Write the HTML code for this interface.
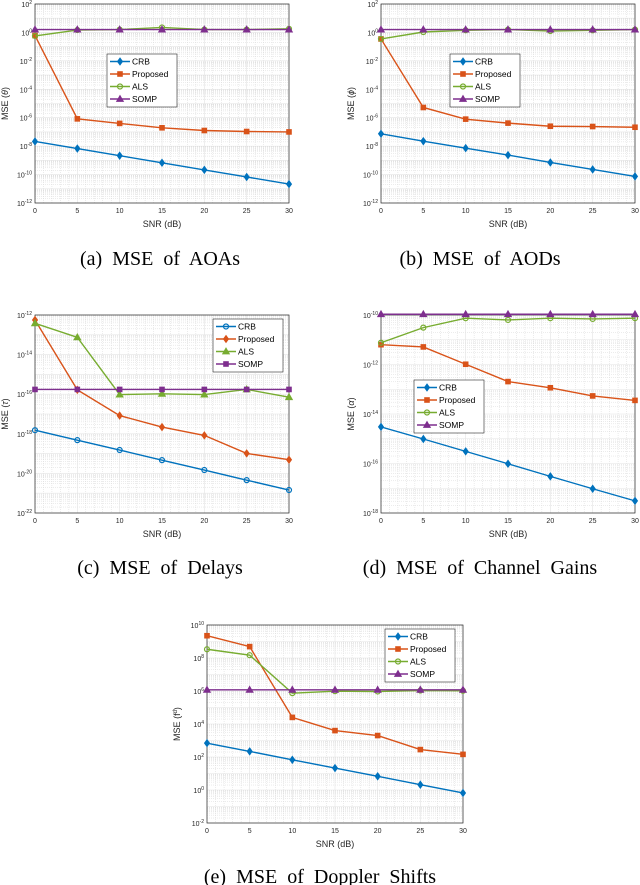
<!DOCTYPE html>
<html><head><meta charset="utf-8"><style>
body{margin:0;background:#fff;width:640px;height:885px;overflow:hidden}
svg{display:block}
text{font-family:"Liberation Sans",sans-serif}
.cap{font-family:"Liberation Serif",serif;font-size:20px;word-spacing:5px}
</style></head><body>
<svg id="fig" width="640" height="885"></svg>
<script>
const snr = [0,5,10,15,20,25,30];
const xTicks = [0,5,10,15,20,25,30];
const seriesNames = ["CRB","Proposed","ALS","SOMP"];
// log10 MSE values
const aCRB = [-7.67,-8.17,-8.67,-9.17,-9.67,-10.17,-10.67];
const aProp = [-0.22,-6.08,-6.4,-6.71,-6.9,-6.97,-7.0];
const aALS = [-0.25,0.17,0.2,0.35,0.2,0.2,0.25];
const aSOMP = [0.2,0.2,0.2,0.2,0.2,0.2,0.2];
const bCRB = [-7.13,-7.65,-8.14,-8.63,-9.15,-9.64,-10.13];
const bProp = [-0.46,-5.28,-6.1,-6.38,-6.6,-6.62,-6.67];
const bALS = [-0.46,0.03,0.15,0.2,0.1,0.15,0.2];
const bSOMP = [0.2,0.2,0.2,0.2,0.2,0.2,0.2];
const cCRB = [-17.82,-18.32,-18.82,-19.33,-19.83,-20.34,-20.84];
const cProp = [-12.25,-15.78,-17.08,-17.66,-18.08,-18.99,-19.31];
const cALS = [-12.42,-13.13,-16.02,-15.98,-16.02,-15.76,-16.15];
const cSOMP = [-15.76,-15.76,-15.76,-15.76,-15.76,-15.76,-15.76];
const dCRB = [-14.52,-15.01,-15.51,-16.01,-16.52,-17.02,-17.51];
const dProp = [-11.2,-11.29,-11.99,-12.69,-12.94,-13.27,-13.45];
const dALS = [-11.12,-10.51,-10.13,-10.2,-10.13,-10.16,-10.13];
const dSOMP = [-9.97,-9.97,-9.97,-9.97,-9.97,-9.97,-9.97];
const eCRB = [2.84,2.34,1.83,1.33,0.83,0.32,-0.18];
const eProp = [9.35,8.69,4.4,3.6,3.3,2.45,2.16];
const eALS = [8.53,8.17,5.87,5.99,5.97,6.03,6.01];
const eSOMP = [6.07,6.07,6.07,6.07,6.07,6.07,6.07];
const aYTicks=[2,0,-2,-4,-6,-8,-10,-12];
const cYTicks=[-12,-14,-16,-18,-20,-22];
const dYTicks=[-10,-12,-14,-16,-18];
const eYTicks=[10,8,6,4,2,0,-2];

const colors=["#0072BD","#D95319","#77AC30","#7E2F8E"];
const NS="http://www.w3.org/2000/svg";
const svg=document.getElementById('fig');
function el(tag,attrs,parent){const e=document.createElementNS(NS,tag);for(const k in attrs)e.setAttribute(k,attrs[k]);(parent||svg).appendChild(e);return e;}

function marker(g,type,x,y,c){
  let m;
  if(type==='diamond') m=el('polygon',{points:`${x},${y-3.6} ${x+2.6},${y} ${x},${y+3.6} ${x-2.6},${y}`,fill:c,stroke:c,'stroke-width':0.8},g);
  else if(type==='square') m=el('rect',{x:x-2.3,y:y-2.3,width:4.6,height:4.6,fill:c,stroke:c},g);
  else if(type==='circle') m=el('circle',{cx:x,cy:y,r:2.5,fill:'none',stroke:c,'stroke-width':1.2},g);
  else m=el('polygon',{points:`${x},${y-3.4} ${x+3.3},${y+2.4} ${x-3.3},${y+2.4}`,fill:c,stroke:c},g);
  return m;
}

function chart(id,L,R,T,B,ymax,ymin,yTicks,series,markers,ylabel,ylabX,leg,caption,capY,capX){
  const g=el('g',{});
  
  
  const xs=v=>L+(v-0)/(30-0)*(R-L);
  const ys=v=>T+(ymax-v)/(ymax-ymin)*(B-T);
  for(let x=0;x<=30;x++){ if(x%5) el('line',{x1:xs(x),x2:xs(x),y1:T,y2:B,stroke:'#d8d8d8','stroke-width':0.5,'stroke-dasharray':'1 1'},g);}
  for(let d=ymin;d<ymax;d++){for(let k=2;k<=9;k++){const y=ys(d+Math.log10(k));el('line',{x1:L,x2:R,y1:y,y2:y,stroke:'#d8d8d8','stroke-width':0.5,'stroke-dasharray':'1 1'},g);}}
  for(let d=ymin;d<=ymax;d++){const y=ys(d);el('line',{x1:L,x2:R,y1:y,y2:y,stroke:'#e4e4e4','stroke-width':0.6},g);}
  xTicks.forEach(t=>{el('line',{x1:xs(t),x2:xs(t),y1:T,y2:B,stroke:'#e4e4e4','stroke-width':0.6},g);});
  el('rect',{x:L,y:T,width:R-L,height:B-T,fill:'none',stroke:'#262626','stroke-width':0.7},g);
  xTicks.forEach(t=>{const tx=el('text',{x:xs(t),y:B+10,'font-size':7,'text-anchor':'middle',fill:'#262626'},g);tx.textContent=t;
    
    });
  yTicks.forEach(t=>{const tx=el('text',{x:L-3,y:ys(t)+3,'font-size':7,'text-anchor':'end',fill:'#262626'},g);
    
    
    tx.appendChild(document.createTextNode('10'));const s=el('tspan',{dy:-3,'font-size':5},tx);s.textContent=t;});
  const xl=el('text',{x:(L+R)/2,y:B+24,'font-size':9,'text-anchor':'middle',fill:'#262626'},g);xl.textContent='SNR (dB)';
  
  
  const yl=el('text',{x:ylabX,y:(T+B)/2,'font-size':9,'text-anchor':'middle',fill:'#262626',transform:`rotate(-90 ${ylabX} ${(T+B)/2})`},g);yl.innerHTML=ylabel;
  
  
  series.forEach((s,i)=>{
    const pts=snr.map((x,j)=>`${xs(x)},${ys(s[j])}`).join(' ');
    const pl=el('polyline',{points:pts,fill:'none',stroke:colors[i],'stroke-width':1.4},g);
    
    
    snr.forEach((x,j)=>{const m=marker(g,markers[i],xs(x),ys(s[j]),colors[i]);
      
      });
  });
  const lg=el('g',{},g);
  
  
  el('rect',{x:leg[0],y:leg[1],width:70,height:53,fill:'#fff',stroke:'#262626','stroke-width':0.6},lg);
  seriesNames.forEach((n,i)=>{const y=leg[1]+7.5+i*12.5;
    el('line',{x1:leg[0]+3,x2:leg[0]+23,y1:y,y2:y,stroke:colors[i],'stroke-width':1.4},lg);
    marker(lg,markers[i],leg[0]+13,y,colors[i]);
    const t=el('text',{x:leg[0]+25,y:y+3,'font-size':8.5,fill:'#000'},lg);t.textContent=n;
    
    });
  const c=el('text',{x:capX,y:capY,'text-anchor':'middle',class:'cap'},g);c.textContent=caption;
  
  
}
const m1=['diamond','square','circle','triangle'];
const m2=['circle','diamond','triangle','square'];
chart('chart-aoa',35,289,4,203,2,-12,aYTicks,[aCRB,aProp,aALS,aSOMP],m1,'MSE (<tspan font-style="italic">θ</tspan>)',8,[107,54],'(a) MSE of AOAs',265,160);
chart('chart-aod',381,635,4,203,2,-12,aYTicks,[bCRB,bProp,bALS,bSOMP],m1,'MSE (<tspan font-style="italic">ϕ</tspan>)',354,[450,54],'(b) MSE of AODs',265,480);
chart('chart-delay',35,289,315,513,-12,-22,cYTicks,[cCRB,cProp,cALS,cSOMP],m2,'MSE (<tspan font-style="italic">τ</tspan>)',8,[213,319],'(c) MSE of Delays',574,160);
chart('chart-gain',381,635,315,513,-10,-18,dYTicks,[dCRB,dProp,dALS,dSOMP],m1,'MSE (<tspan font-style="italic">α</tspan>)',354,[414,380],'(d) MSE of Channel Gains',574,480);
chart('chart-doppler',207,463,625,823,10,-2,eYTicks,[eCRB,eProp,eALS,eSOMP],m1,'MSE (f<tspan dy="-3" font-size="6">d</tspan><tspan dy="3">)</tspan>',180,[385,629],'(e) MSE of Doppler Shifts',883,320);
</script>
</body></html>
